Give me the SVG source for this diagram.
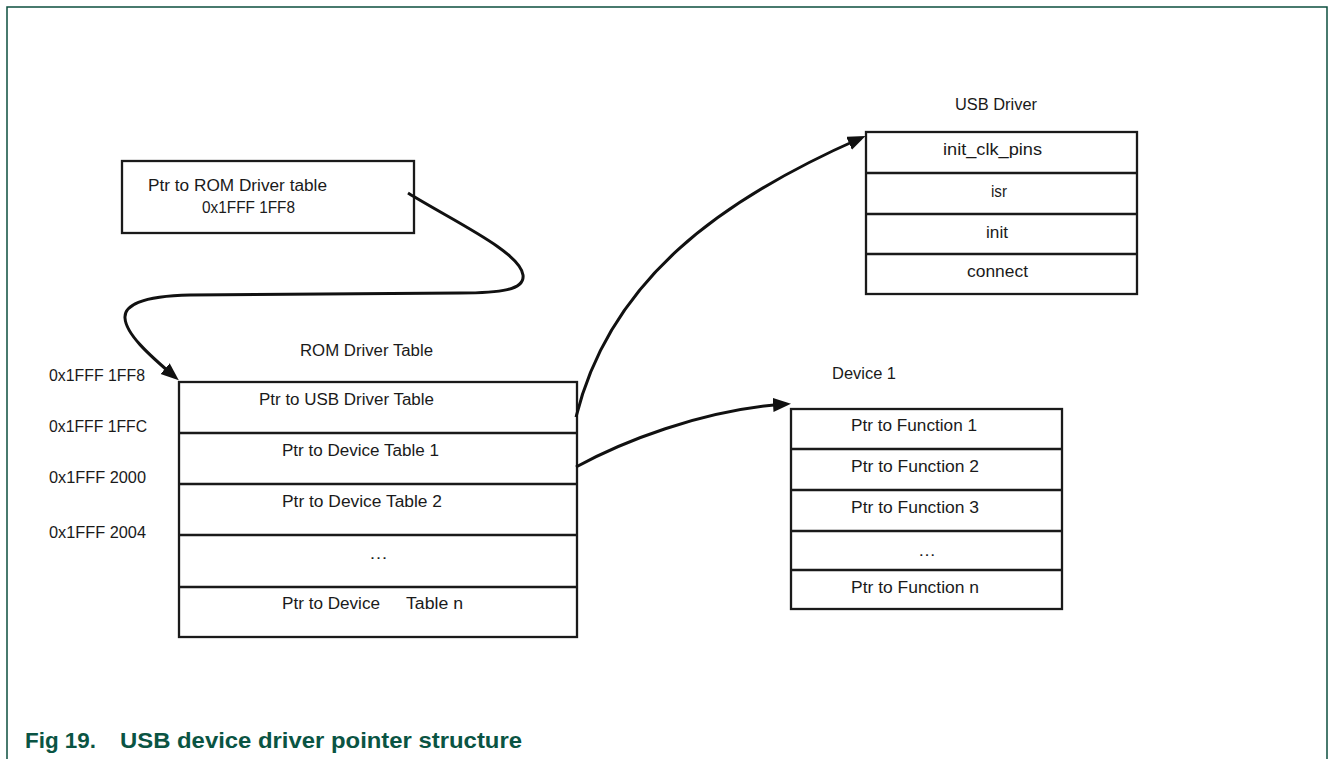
<svg xmlns="http://www.w3.org/2000/svg" width="1328" height="759" viewBox="0 0 1328 759">
<style>
  .frame { fill: none; stroke: #0d4f3f; stroke-width: 1.5; }
  .box { fill: #ffffff; stroke: #1a1a1a; stroke-width: 2.3; }
  .sep { stroke: #1a1a1a; stroke-width: 2.3; }
  .t { font-family: "Liberation Sans", Arial, sans-serif; font-size: 16px; fill: #1a1a1a; }
  .conn { fill: none; stroke: #111111; stroke-width: 3; stroke-linecap: butt; marker-end: url(#arr); }
  .cap { font-family: "Liberation Sans", Arial, sans-serif; font-size: 22px; font-weight: bold; fill: #0a5443; }
</style>
<defs>
  <marker id="arr" markerUnits="userSpaceOnUse" markerWidth="20" markerHeight="16" refX="13" refY="7" orient="auto">
    <path d="M0,0 L18,7 L0,14 z" fill="#111111"/>
  </marker>
</defs>
<rect width="1328" height="759" fill="#ffffff"/>
<path class="frame" d="M7,770 V7 H1327 V770"/>

<g id="ptr-rom">
  <rect class="box" x="122" y="161" width="292" height="72"/>
  <text class="t" x="148" y="191" textLength="179" lengthAdjust="spacingAndGlyphs">Ptr to ROM Driver table</text>
  <text class="t" x="202" y="213" textLength="93" lengthAdjust="spacingAndGlyphs">0x1FFF 1FF8</text>
</g>

<g id="addresses">
  <text class="t" x="49" y="381" textLength="96" lengthAdjust="spacingAndGlyphs">0x1FFF 1FF8</text>
  <text class="t" x="49" y="432" textLength="98" lengthAdjust="spacingAndGlyphs">0x1FFF 1FFC</text>
  <text class="t" x="49" y="483" textLength="97" lengthAdjust="spacingAndGlyphs">0x1FFF 2000</text>
  <text class="t" x="49" y="538" textLength="97" lengthAdjust="spacingAndGlyphs">0x1FFF 2004</text>
</g>

<g id="rom-driver-table">
  <text class="t" x="300" y="356" textLength="133" lengthAdjust="spacingAndGlyphs">ROM Driver Table</text>
  <rect class="box" x="179" y="382" width="398" height="255"/>
  <line class="sep" x1="179" y1="433" x2="577" y2="433"/>
  <line class="sep" x1="179" y1="484" x2="577" y2="484"/>
  <line class="sep" x1="179" y1="535" x2="577" y2="535"/>
  <line class="sep" x1="179" y1="587" x2="577" y2="587"/>
  <text class="t" x="259" y="405" textLength="175" lengthAdjust="spacingAndGlyphs">Ptr to USB Driver Table</text>
  <text class="t" x="282" y="456" textLength="157" lengthAdjust="spacingAndGlyphs">Ptr to Device Table 1</text>
  <text class="t" x="282" y="507" textLength="160" lengthAdjust="spacingAndGlyphs">Ptr to Device Table 2</text>
  <text class="t" x="369" y="559" textLength="19" lengthAdjust="spacingAndGlyphs">…</text>
  <text class="t" x="282" y="609" textLength="98" lengthAdjust="spacingAndGlyphs">Ptr to Device</text>
  <text class="t" x="406" y="609" textLength="57" lengthAdjust="spacingAndGlyphs">Table n</text>
</g>

<g id="usb-driver">
  <text class="t" x="955" y="110" textLength="82" lengthAdjust="spacingAndGlyphs">USB Driver</text>
  <rect class="box" x="866" y="132" width="271" height="162"/>
  <line class="sep" x1="866" y1="173" x2="1137" y2="173"/>
  <line class="sep" x1="866" y1="214" x2="1137" y2="214"/>
  <line class="sep" x1="866" y1="254" x2="1137" y2="254"/>
  <text class="t" x="943" y="155" textLength="99" lengthAdjust="spacingAndGlyphs">init_clk_pins</text>
  <text class="t" x="991" y="197" textLength="16" lengthAdjust="spacingAndGlyphs">isr</text>
  <text class="t" x="986" y="238" textLength="22" lengthAdjust="spacingAndGlyphs">init</text>
  <text class="t" x="967" y="277" textLength="61" lengthAdjust="spacingAndGlyphs">connect</text>
</g>

<g id="device-1">
  <text class="t" x="832" y="379" textLength="64" lengthAdjust="spacingAndGlyphs">Device 1</text>
  <rect class="box" x="791" y="409" width="271" height="200"/>
  <line class="sep" x1="791" y1="449" x2="1062" y2="449"/>
  <line class="sep" x1="791" y1="490" x2="1062" y2="490"/>
  <line class="sep" x1="791" y1="531" x2="1062" y2="531"/>
  <line class="sep" x1="791" y1="570" x2="1062" y2="570"/>
  <text class="t" x="851" y="431" textLength="126" lengthAdjust="spacingAndGlyphs">Ptr to Function 1</text>
  <text class="t" x="851" y="472" textLength="128" lengthAdjust="spacingAndGlyphs">Ptr to Function 2</text>
  <text class="t" x="851" y="513" textLength="128" lengthAdjust="spacingAndGlyphs">Ptr to Function 3</text>
  <text class="t" x="918" y="556" textLength="18" lengthAdjust="spacingAndGlyphs">…</text>
  <text class="t" x="851" y="593" textLength="128" lengthAdjust="spacingAndGlyphs">Ptr to Function n</text>
</g>

<g id="connectors">
  <path class="conn" d="M408,193 C455,222 520,252 523,275 C525,290 500,293 460,293 L190,295 C140,296 124,306 125,318 C126,334 148,354 175,377"/>
  <path class="conn" d="M576,417 C610,280 720,200 861,138"/>
  <path class="conn" d="M576,467 C620,443 700,410 786,404"/>
</g>

<g id="caption">
  <text class="cap" x="25" y="748" textLength="71" lengthAdjust="spacingAndGlyphs">Fig 19.</text>
  <text class="cap" x="120" y="748" textLength="402" lengthAdjust="spacingAndGlyphs">USB device driver pointer structure</text>
</g>
</svg>
